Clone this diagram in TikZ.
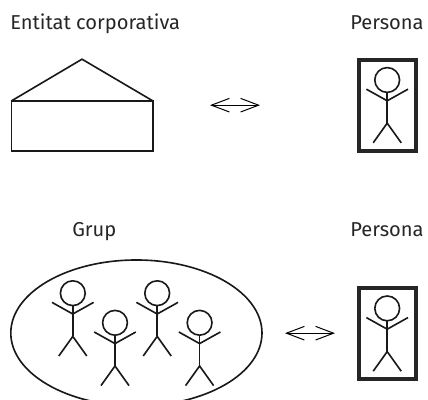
\documentclass[tikz,border=0pt]{standalone}
\usepackage{fontspec}
\setmainfont{Fira Sans}
\usetikzlibrary{calc,positioning,arrows.meta}
\tikzset{
  label text/.style={anchor=base west,inner sep=0mm,font=\fontsize{14.3pt}{16pt}\selectfont,text=black!85},
  outline/.style={line width=1.15pt,black!90},
  thin frame/.style={line width=2.7pt,black!85},
  both ways/.style={line width=0.7pt,{Straight Barb[length=4.5mm,width=3.4mm]}-{Straight Barb[length=4.5mm,width=3.4mm]}},
  pics/stickman/.style={code={
    \draw[outline] (0,0) circle (0.31);
    \draw[outline] (0,-0.31) -- (0,-1.08);
    \draw[outline] (-0.52,-0.23) -- (0,-0.52) -- (0.52,-0.23);
    \draw[outline] (-0.35,-1.57) -- (0,-1.08) -- (0.35,-1.57);
  }}
}
\begin{document}
\begin{tikzpicture}
  \useasboundingbox (0,0) rectangle (10.7,10);
  % top row
  \node[label text] (corp) at (0.25,9.25) {Entitat corporativa};
  \node[label text] (person1) at (8.75,9.25) {Persona};
  \draw[outline] (0.283,6.22) rectangle (3.825,7.475);
  \draw[outline] (0.283,7.475) -- (2.05,8.52) -- (3.825,7.475);
  \coordinate (arrowA) at (5.25,7.37);
  \coordinate (arrowB) at (6.5,7.37);
  \draw[both ways] (arrowA) -- (arrowB);
  \draw[thin frame] (8.975,6.225) rectangle (10.4,8.5);
  \pic at (9.68,8) {stickman};
  % bottom row
  \node[label text] (group) at (1.8,4.08) {Grup};
  \node[label text] (person2) at (8.75,4.08) {Persona};
  \draw[outline] (3.41,1.675) ellipse (3.14 and 1.825);
  \foreach \px/\py in {1.82/2.67,2.875/1.93,3.93/2.67,4.99/1.93}
    \pic at (\px,\py) {stickman};
  \coordinate (arrowC) at (7.125,1.67);
  \coordinate (arrowD) at (8.375,1.67);
  \draw[both ways] (arrowC) -- (arrowD);
  \draw[thin frame] (8.975,0.525) rectangle (10.4,2.79);
  \pic at (9.68,2.29) {stickman};
\end{tikzpicture}
\end{document}
